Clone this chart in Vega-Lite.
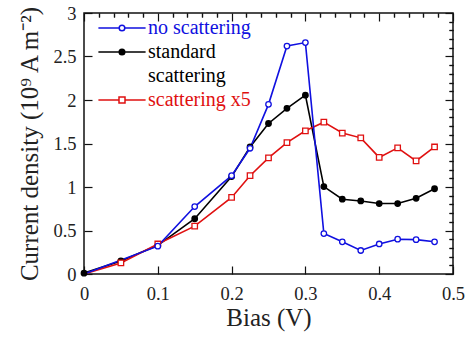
{
  "$schema": "https://vega.github.io/schema/vega-lite/v6.json",
  "width": 369,
  "height": 261,
  "autosize": "none",
  "padding": {"left": 84, "top": 13, "right": 13, "bottom": 64},
  "background": "white",
  "config": {
    "font": "Liberation Serif",
    "style": {"guide-label": {"font": "Liberation Serif"}, "guide-title": {"font": "Liberation Serif"}},
    "view": {"stroke": "#111", "strokeWidth": 1.5},
    "axis": {
      "labelFont": "Liberation Serif",
      "labelFontSize": 18.5,
      "labelColor": "#222",
      "labelFlush": false,
      "titleFont": "Liberation Serif",
      "titleFontSize": 25,
      "titleFontWeight": "normal",
      "titleColor": "#222",
      "domain": false,
      "grid": false,
      "tickColor": "#111",
      "tickWidth": 1.2
    },
    "legend": {
      "labelFont": "Liberation Serif", "labelFontSize": 20, "labelOffset": 16,
      "symbolSize": 64, "symbolStrokeWidth": 1.5, "symbolOpacity": 1,
      "rowPadding": 4, "padding": 0
    }
  },
  "data": {
    "values": [
      {"bias": 0, "j": 0.01, "series": "standard scattering"},
      {"bias": 0.05, "j": 0.15, "series": "standard scattering"},
      {"bias": 0.1, "j": 0.33, "series": "standard scattering"},
      {"bias": 0.15, "j": 0.635, "series": "standard scattering"},
      {"bias": 0.2, "j": 1.12, "series": "standard scattering"},
      {"bias": 0.225, "j": 1.46, "series": "standard scattering"},
      {"bias": 0.25, "j": 1.73, "series": "standard scattering"},
      {"bias": 0.275, "j": 1.905, "series": "standard scattering"},
      {"bias": 0.3, "j": 2.055, "series": "standard scattering"},
      {"bias": 0.325, "j": 1.005, "series": "standard scattering"},
      {"bias": 0.35, "j": 0.86, "series": "standard scattering"},
      {"bias": 0.375, "j": 0.84, "series": "standard scattering"},
      {"bias": 0.4, "j": 0.81, "series": "standard scattering"},
      {"bias": 0.425, "j": 0.81, "series": "standard scattering"},
      {"bias": 0.45, "j": 0.87, "series": "standard scattering"},
      {"bias": 0.475, "j": 0.98, "series": "standard scattering"},
      {"bias": 0, "j": 0, "series": "scattering x5"},
      {"bias": 0.05, "j": 0.127, "series": "scattering x5"},
      {"bias": 0.1, "j": 0.345, "series": "scattering x5"},
      {"bias": 0.15, "j": 0.55, "series": "scattering x5"},
      {"bias": 0.2, "j": 0.88, "series": "scattering x5"},
      {"bias": 0.225, "j": 1.13, "series": "scattering x5"},
      {"bias": 0.25, "j": 1.335, "series": "scattering x5"},
      {"bias": 0.275, "j": 1.51, "series": "scattering x5"},
      {"bias": 0.3, "j": 1.646, "series": "scattering x5"},
      {"bias": 0.325, "j": 1.745, "series": "scattering x5"},
      {"bias": 0.35, "j": 1.62, "series": "scattering x5"},
      {"bias": 0.375, "j": 1.565, "series": "scattering x5"},
      {"bias": 0.4, "j": 1.34, "series": "scattering x5"},
      {"bias": 0.425, "j": 1.45, "series": "scattering x5"},
      {"bias": 0.45, "j": 1.3, "series": "scattering x5"},
      {"bias": 0.475, "j": 1.46, "series": "scattering x5"},
      {"bias": 0, "j": 0, "series": "no scattering"},
      {"bias": 0.1, "j": 0.32, "series": "no scattering"},
      {"bias": 0.15, "j": 0.775, "series": "no scattering"},
      {"bias": 0.2, "j": 1.13, "series": "no scattering"},
      {"bias": 0.225, "j": 1.445, "series": "no scattering"},
      {"bias": 0.25, "j": 1.95, "series": "no scattering"},
      {"bias": 0.275, "j": 2.62, "series": "no scattering"},
      {"bias": 0.3, "j": 2.66, "series": "no scattering"},
      {"bias": 0.325, "j": 0.465, "series": "no scattering"},
      {"bias": 0.35, "j": 0.37, "series": "no scattering"},
      {"bias": 0.375, "j": 0.27, "series": "no scattering"},
      {"bias": 0.4, "j": 0.345, "series": "no scattering"},
      {"bias": 0.425, "j": 0.4, "series": "no scattering"},
      {"bias": 0.45, "j": 0.395, "series": "no scattering"},
      {"bias": 0.475, "j": 0.37, "series": "no scattering"}
    ]
  },
  "resolve": {"axis": {"x": "independent", "y": "independent"}},
  "layer": [
    {
      "mark": {"type": "line", "strokeWidth": 1.6},
      "encoding": {
        "x": {"field": "bias", "type": "quantitative", "scale": {"domain": [0, 0.5], "nice": false},
          "axis": {"values": [0, 0.1, 0.2, 0.3, 0.4, 0.5], "format": "~g", "tickSize": -8, "labelPadding": 18, "title": "Bias (V)", "titlePadding": 3}},
        "y": {"field": "j", "type": "quantitative", "scale": {"domain": [0, 3], "nice": false},
          "axis": {"values": [0, 0.5, 1, 1.5, 2, 2.5, 3], "format": "~g", "tickSize": -8, "labelPadding": 16, "title": "Current density (10⁹ A m⁻²)", "titlePadding": 10}},
        "stroke": {"field": "series", "type": "nominal", "scale": {"domain": ["no scattering", "standard scattering", "scattering x5"], "range": ["#1010e0", "#000000", "#e01010"]},
          "legend": {
            "orient": "none", "legendX": 28, "legendY": 5, "title": null,
            "labelFont": "Liberation Serif", "labelFontSize": 20, "labelOffset": 16,
            "labelExpr": "datum.value == 'standard scattering' ? ['standard', 'scattering'] : datum.value",
            "encode": {
              "labels": {"update": {"fill": {"scale": "stroke", "field": "value"}, "lineHeight": {"value": 24}}},
              "symbols": {"update": {"shape": {"signal": "datum.value == 'scattering x5' ? 'M-5.9,0H-0.75M0.75,0H5.9M-0.75,-0.75H0.75V0.75H-0.75Z' : 'M-5.9,0H-0.7M0.7,0H5.9M-0.7,0A0.7,0.7 0 1,1 0.7,0A0.7,0.7 0 1,1 -0.7,0Z'"}}}
            }
          }}
      }
    },
    {
      "transform": [{"filter": "datum.bias > 0 || datum.series == 'standard scattering'"}],
      "mark": {"type": "point", "opacity": 1, "size": 30, "strokeWidth": 1.3},
      "encoding": {
        "x": {"field": "bias", "type": "quantitative",
          "axis": {"values": [0.02, 0.04, 0.06, 0.08, 0.12, 0.14, 0.16, 0.18, 0.22, 0.24, 0.26, 0.28, 0.32, 0.34, 0.36, 0.38, 0.42, 0.44, 0.46, 0.48], "tickSize": -4, "labels": false, "title": null}},
        "y": {"field": "j", "type": "quantitative",
          "axis": {"values": [0.1, 0.2, 0.3, 0.4, 0.6, 0.7, 0.8, 0.9, 1.1, 1.2, 1.3, 1.4, 1.6, 1.7, 1.8, 1.9, 2.1, 2.2, 2.3, 2.4, 2.6, 2.7, 2.8, 2.9], "tickSize": -4, "labels": false, "title": null}},
        "stroke": {"field": "series", "type": "nominal"},
        "fill": {"field": "series", "type": "nominal", "scale": {"domain": ["no scattering", "standard scattering", "scattering x5"], "range": ["#ffffff", "#000000", "#ffffff"]}},
        "shape": {"condition": {"test": "datum.series == 'scattering x5'", "value": "square"}, "value": "circle"}
      }
    },
    {
      "mark": {"type": "point", "opacity": 0},
      "encoding": {
        "x": {"field": "bias", "type": "quantitative",
          "axis": {"orient": "top", "values": [0, 0.1, 0.2, 0.3, 0.4, 0.5], "tickSize": -8, "labels": false, "title": null}},
        "y": {"field": "j", "type": "quantitative",
          "axis": {"orient": "right", "values": [0, 0.5, 1, 1.5, 2, 2.5, 3], "tickSize": -8, "labels": false, "title": null}}
      }
    },
    {
      "mark": {"type": "point", "opacity": 0},
      "encoding": {
        "x": {"field": "bias", "type": "quantitative",
          "axis": {"orient": "top", "values": [0.02, 0.04, 0.06, 0.08, 0.12, 0.14, 0.16, 0.18, 0.22, 0.24, 0.26, 0.28, 0.32, 0.34, 0.36, 0.38, 0.42, 0.44, 0.46, 0.48], "tickSize": -4, "labels": false, "title": null}},
        "y": {"field": "j", "type": "quantitative",
          "axis": {"orient": "right", "values": [0.1, 0.2, 0.3, 0.4, 0.6, 0.7, 0.8, 0.9, 1.1, 1.2, 1.3, 1.4, 1.6, 1.7, 1.8, 1.9, 2.1, 2.2, 2.3, 2.4, 2.6, 2.7, 2.8, 2.9], "tickSize": -4, "labels": false, "title": null}}
      }
    }
  ]
}
